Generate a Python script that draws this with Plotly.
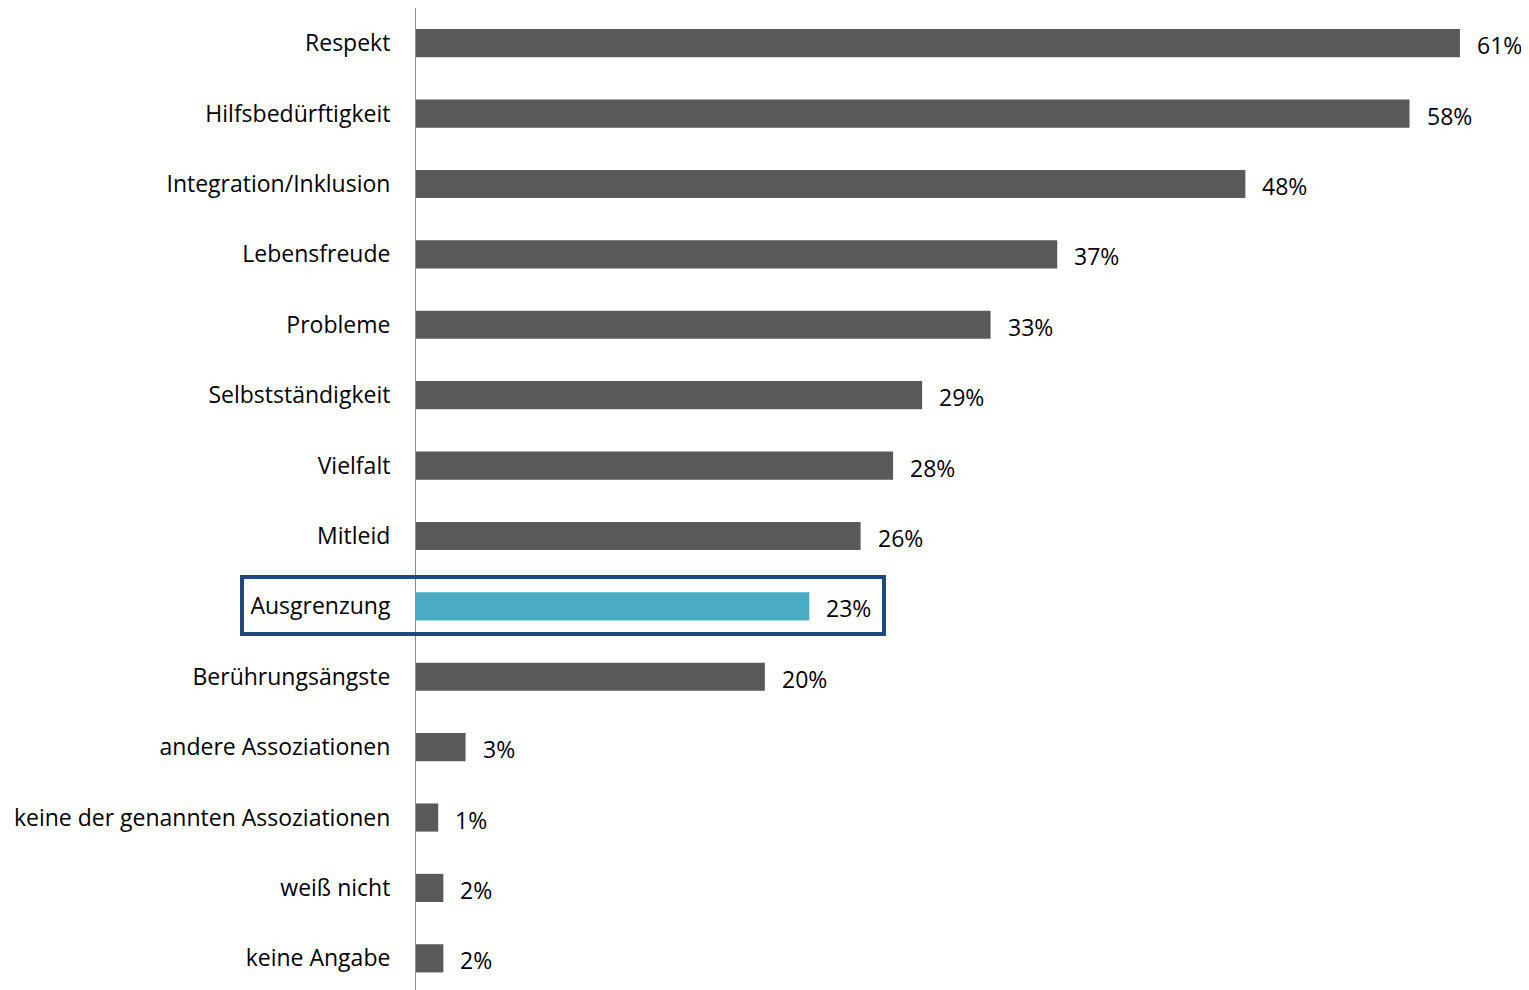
import plotly.graph_objects as go

categories = ["Respekt", "Hilfsbedürftigkeit", "Integration/Inklusion", "Lebensfreude",
              "Probleme", "Selbstständigkeit", "Vielfalt", "Mitleid", "Ausgrenzung",
              "Berührungsängste", "andere Assoziationen", "keine der genannten Assoziationen",
              "weiß nicht", "keine Angabe"]
values = [61.05, 58.1, 48.5, 37.5, 33.6, 29.6, 27.9, 26.0, 23.0, 20.4, 2.9, 1.3, 1.6, 1.6]
labels = ["61%", "58%", "48%", "37%", "33%", "29%", "28%", "26%", "23%", "20%",
          "3%", "1%", "2%", "2%"]
highlight = "Ausgrenzung"

FONT = "Open Sans"
FS = 23
colors = ["#4BACC6" if c == highlight else "#595959" for c in categories]

fig = go.Figure()
fig.add_trace(go.Bar(
    x=values, y=categories, orientation="h",
    marker=dict(color=colors, line=dict(width=0)),
    width=0.4, hoverinfo="skip", cliponaxis=False,
))

for c, v, t in zip(categories, values, labels):
    fig.add_annotation(x=v, y=c, text=t, xref="x", yref="y", showarrow=False,
                       xanchor="left", yanchor="middle", xshift=15, yshift=-2,
                       font=dict(family=FONT, size=FS, color="#000000"))

# page has an 8px body margin; figure origin is at (8, 8) on screen
OFF = 8
L, R, T, B = 416, 1529, 8, 990
W, H = R - L, B - T
FIG_W, FIG_H = 1529 - OFF, 990 - OFF

def px(x):
    return (x - L) / W
def py(y):
    return 1 - (y - T) / H

fig.add_shape(type="rect", xref="paper", yref="paper",
              x0=px(242), x1=px(884), y0=py(634), y1=py(577),
              line=dict(color="#1F497D", width=4), fillcolor="rgba(0,0,0,0)")

fig.update_layout(
    width=FIG_W, height=FIG_H,
    margin=dict(l=L - OFF, r=0, t=T - OFF, b=0, autoexpand=False),
    paper_bgcolor="white", plot_bgcolor="white",
    showlegend=False,
    xaxis=dict(range=[0, W / 17.1], visible=False, fixedrange=True),
    yaxis=dict(categoryorder="array", categoryarray=categories[::-1],
               range=[-0.45, 13.5],
               showline=True, linecolor="#8C8C8C", linewidth=1,
               showgrid=False, ticks="", ticklabelstandoff=20,
               tickfont=dict(family=FONT, size=FS, color="#000000")),
)

fig.write_html("out.html")
